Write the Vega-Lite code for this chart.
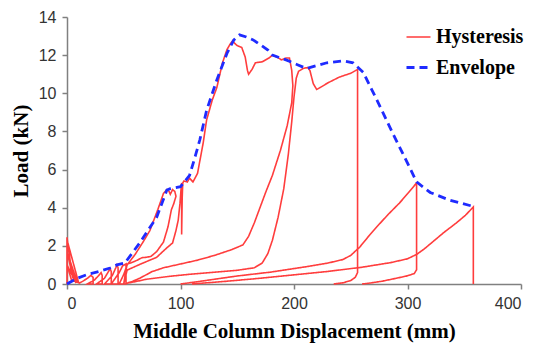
{
  "$schema": "https://vega.github.io/schema/vega-lite/v6.json",
  "width": 454,
  "height": 267,
  "autosize": {"type": "none"},
  "padding": {"left": 67, "top": 17, "right": 16, "bottom": 63},
  "background": "white",
  "config": {
    "view": {"stroke": null},
    "axis": {
      "grid": false,
      "labelFont": "Liberation Sans",
      "labelFontSize": 16,
      "labelColor": "#333333",
      "titleFont": "Liberation Serif",
      "titleFontSize": 21,
      "titleFontWeight": "bold",
      "titleColor": "#000000",
      "domainColor": "#808080",
      "domainWidth": 1.5,
      "tickColor": "#808080",
      "tickWidth": 1.5,
      "tickSize": 5
    }
  },
  "datasets": {
    "rows": [
      {"series":"Hysteresis","c":1,"i":1,"x":0,"y":0},
      {"series":"Hysteresis","c":1,"i":2,"x":0,"y":2.45},
      {"series":"Hysteresis","c":1,"i":3,"x":2,"y":1.5},
      {"series":"Hysteresis","c":1,"i":4,"x":4,"y":0.8},
      {"series":"Hysteresis","c":1,"i":5,"x":7,"y":0.3},
      {"series":"Hysteresis","c":1,"i":6,"x":10,"y":0.12},
      {"series":"Hysteresis","c":1,"i":7,"x":1,"y":2.1},
      {"series":"Hysteresis","c":1,"i":8,"x":3,"y":1.1},
      {"series":"Hysteresis","c":1,"i":9,"x":6,"y":0.45},
      {"series":"Hysteresis","c":1,"i":10,"x":9,"y":0.1},
      {"series":"Hysteresis","c":1,"i":11,"x":0.5,"y":1.6},
      {"series":"Hysteresis","c":1,"i":12,"x":5,"y":0.35},
      {"series":"Hysteresis","c":1,"i":13,"x":8,"y":0.05},
      {"series":"Hysteresis","c":1,"i":14,"x":0,"y":1.0},
      {"series":"Hysteresis","c":1,"i":15,"x":4,"y":0.2},
      {"series":"Hysteresis","c":1,"i":16,"x":11,"y":0.05},
      {"series":"Hysteresis","c":1,"i":17,"x":14,"y":0.15},
      {"series":"Hysteresis","c":1,"i":18,"x":18,"y":0.3},
      {"series":"Hysteresis","c":1,"i":19,"x":21,"y":0.45},
      {"series":"Hysteresis","c":1,"i":20,"x":23,"y":0.35},
      {"series":"Hysteresis","c":1,"i":21,"x":23,"y":0},
      {"series":"Hysteresis","c":1,"i":22,"x":18,"y":0},
      {"series":"Hysteresis","c":1,"i":23,"x":24,"y":0.2},
      {"series":"Hysteresis","c":1,"i":24,"x":28,"y":0.45},
      {"series":"Hysteresis","c":1,"i":25,"x":30,"y":0.6},
      {"series":"Hysteresis","c":1,"i":26,"x":31,"y":0.45},
      {"series":"Hysteresis","c":1,"i":27,"x":31,"y":0},
      {"series":"Hysteresis","c":1,"i":28,"x":26,"y":0},
      {"series":"Hysteresis","c":1,"i":29,"x":33,"y":0.3},
      {"series":"Hysteresis","c":1,"i":30,"x":36,"y":0.6},
      {"series":"Hysteresis","c":1,"i":31,"x":38,"y":0.8},
      {"series":"Hysteresis","c":1,"i":32,"x":39,"y":0.65},
      {"series":"Hysteresis","c":1,"i":33,"x":39,"y":0},
      {"series":"Hysteresis","c":1,"i":34,"x":33,"y":0},
      {"series":"Hysteresis","c":1,"i":35,"x":40,"y":0.45},
      {"series":"Hysteresis","c":1,"i":36,"x":43,"y":0.85},
      {"series":"Hysteresis","c":1,"i":37,"x":44,"y":1.0},
      {"series":"Hysteresis","c":1,"i":38,"x":45,"y":0.85},
      {"series":"Hysteresis","c":1,"i":39,"x":45,"y":0},
      {"series":"Hysteresis","c":1,"i":40,"x":39,"y":0},
      {"series":"Hysteresis","c":1,"i":41,"x":46,"y":0.6},
      {"series":"Hysteresis","c":1,"i":42,"x":49,"y":0.95},
      {"series":"Hysteresis","c":1,"i":43,"x":52,"y":1.05},
      {"series":"Hysteresis","c":1,"i":44,"x":52,"y":0},
      {"series":"Hysteresis","c":1,"i":45,"x":46,"y":0},
      {"series":"Hysteresis","c":1,"i":46,"x":50,"y":0.5},
      {"series":"Hysteresis","c":1,"i":47,"x":53,"y":1.0},
      {"series":"Hysteresis","c":1,"i":48,"x":60,"y":1.55},
      {"series":"Hysteresis","c":1,"i":49,"x":67,"y":2.2},
      {"series":"Hysteresis","c":1,"i":50,"x":73,"y":2.8},
      {"series":"Hysteresis","c":1,"i":51,"x":80,"y":3.9},
      {"series":"Hysteresis","c":1,"i":52,"x":85,"y":4.75},
      {"series":"Hysteresis","c":1,"i":53,"x":88,"y":4.95},
      {"series":"Hysteresis","c":1,"i":54,"x":90,"y":4.85},
      {"series":"Hysteresis","c":1,"i":55,"x":91,"y":4.7},
      {"series":"Hysteresis","c":1,"i":56,"x":93,"y":4.95},
      {"series":"Hysteresis","c":1,"i":57,"x":95,"y":4.85},
      {"series":"Hysteresis","c":1,"i":58,"x":96,"y":4.6},
      {"series":"Hysteresis","c":1,"i":59,"x":94,"y":4.2},
      {"series":"Hysteresis","c":1,"i":60,"x":92,"y":3.9},
      {"series":"Hysteresis","c":1,"i":61,"x":89,"y":3.0},
      {"series":"Hysteresis","c":1,"i":62,"x":85,"y":2.2},
      {"series":"Hysteresis","c":1,"i":63,"x":79,"y":1.7},
      {"series":"Hysteresis","c":1,"i":64,"x":74,"y":1.45},
      {"series":"Hysteresis","c":1,"i":65,"x":70,"y":1.4},
      {"series":"Hysteresis","c":1,"i":66,"x":66,"y":1.38},
      {"series":"Hysteresis","c":1,"i":67,"x":62,"y":1.25},
      {"series":"Hysteresis","c":1,"i":68,"x":56,"y":1.1},
      {"series":"Hysteresis","c":1,"i":69,"x":53,"y":1.05},
      {"series":"Hysteresis","c":1,"i":70,"x":51,"y":0.4},
      {"series":"Hysteresis","c":1,"i":71,"x":50,"y":0},
      {"series":"Hysteresis","c":1,"i":72,"x":53,"y":0.73},
      {"series":"Hysteresis","c":1,"i":73,"x":65,"y":1.05},
      {"series":"Hysteresis","c":1,"i":74,"x":79,"y":1.4},
      {"series":"Hysteresis","c":1,"i":75,"x":88,"y":1.9},
      {"series":"Hysteresis","c":1,"i":76,"x":93,"y":2.15},
      {"series":"Hysteresis","c":1,"i":77,"x":96,"y":2.8},
      {"series":"Hysteresis","c":1,"i":78,"x":98,"y":3.35},
      {"series":"Hysteresis","c":1,"i":79,"x":99.5,"y":4.2},
      {"series":"Hysteresis","c":1,"i":80,"x":100.5,"y":5.0},
      {"series":"Hysteresis","c":1,"i":81,"x":101,"y":5.3},
      {"series":"Hysteresis","c":1,"i":82,"x":101,"y":2.6},
      {"series":"Hysteresis","c":1,"i":83,"x":101.5,"y":4.5},
      {"series":"Hysteresis","c":1,"i":84,"x":102,"y":5.3},
      {"series":"Hysteresis","c":1,"i":85,"x":103,"y":5.4},
      {"series":"Hysteresis","c":1,"i":86,"x":106,"y":5.35},
      {"series":"Hysteresis","c":1,"i":87,"x":108,"y":5.55},
      {"series":"Hysteresis","c":1,"i":88,"x":111,"y":5.35},
      {"series":"Hysteresis","c":1,"i":89,"x":115,"y":5.8},
      {"series":"Hysteresis","c":1,"i":90,"x":120,"y":7.4},
      {"series":"Hysteresis","c":1,"i":91,"x":123,"y":8.6},
      {"series":"Hysteresis","c":1,"i":92,"x":128,"y":9.65},
      {"series":"Hysteresis","c":1,"i":93,"x":132,"y":10.3},
      {"series":"Hysteresis","c":1,"i":94,"x":137,"y":11.6},
      {"series":"Hysteresis","c":1,"i":95,"x":141,"y":12.3},
      {"series":"Hysteresis","c":1,"i":96,"x":144,"y":12.6},
      {"series":"Hysteresis","c":1,"i":97,"x":146,"y":12.75},
      {"series":"Hysteresis","c":1,"i":98,"x":148,"y":12.6},
      {"series":"Hysteresis","c":1,"i":99,"x":150,"y":12.5},
      {"series":"Hysteresis","c":1,"i":100,"x":154,"y":12.4},
      {"series":"Hysteresis","c":1,"i":101,"x":157,"y":11.9},
      {"series":"Hysteresis","c":1,"i":102,"x":159,"y":11.2},
      {"series":"Hysteresis","c":1,"i":103,"x":160,"y":11.0},
      {"series":"Hysteresis","c":1,"i":104,"x":163,"y":11.25},
      {"series":"Hysteresis","c":1,"i":105,"x":166,"y":11.6},
      {"series":"Hysteresis","c":1,"i":106,"x":172,"y":11.65},
      {"series":"Hysteresis","c":1,"i":107,"x":178,"y":11.85},
      {"series":"Hysteresis","c":1,"i":108,"x":181,"y":12.0},
      {"series":"Hysteresis","c":1,"i":109,"x":185,"y":11.9},
      {"series":"Hysteresis","c":1,"i":110,"x":189,"y":11.75},
      {"series":"Hysteresis","c":1,"i":111,"x":193,"y":11.85},
      {"series":"Hysteresis","c":1,"i":112,"x":196,"y":11.85},
      {"series":"Hysteresis","c":1,"i":113,"x":198,"y":11.2},
      {"series":"Hysteresis","c":1,"i":114,"x":199,"y":10.4},
      {"series":"Hysteresis","c":1,"i":115,"x":198,"y":9.5},
      {"series":"Hysteresis","c":1,"i":116,"x":194,"y":8.3},
      {"series":"Hysteresis","c":1,"i":117,"x":188,"y":7.0},
      {"series":"Hysteresis","c":1,"i":118,"x":181,"y":5.7},
      {"series":"Hysteresis","c":1,"i":119,"x":175,"y":4.8},
      {"series":"Hysteresis","c":1,"i":120,"x":170,"y":4.0},
      {"series":"Hysteresis","c":1,"i":121,"x":165,"y":3.2},
      {"series":"Hysteresis","c":1,"i":122,"x":160,"y":2.5},
      {"series":"Hysteresis","c":1,"i":123,"x":155,"y":2.05},
      {"series":"Hysteresis","c":1,"i":124,"x":145,"y":1.8},
      {"series":"Hysteresis","c":1,"i":125,"x":130,"y":1.5},
      {"series":"Hysteresis","c":1,"i":126,"x":115,"y":1.25},
      {"series":"Hysteresis","c":1,"i":127,"x":100,"y":1.05},
      {"series":"Hysteresis","c":1,"i":128,"x":85,"y":0.85},
      {"series":"Hysteresis","c":1,"i":129,"x":75,"y":0.65},
      {"series":"Hysteresis","c":1,"i":130,"x":64,"y":0.3},
      {"series":"Hysteresis","c":1,"i":131,"x":57,"y":0.12},
      {"series":"Hysteresis","c":1,"i":132,"x":52,"y":0.03},
      {"series":"Hysteresis","c":1,"i":133,"x":60,"y":0.12},
      {"series":"Hysteresis","c":1,"i":134,"x":70,"y":0.25},
      {"series":"Hysteresis","c":1,"i":135,"x":90,"y":0.4},
      {"series":"Hysteresis","c":1,"i":136,"x":110,"y":0.52},
      {"series":"Hysteresis","c":1,"i":137,"x":130,"y":0.62},
      {"series":"Hysteresis","c":1,"i":138,"x":150,"y":0.72},
      {"series":"Hysteresis","c":1,"i":139,"x":165,"y":0.85},
      {"series":"Hysteresis","c":1,"i":140,"x":172,"y":1.1},
      {"series":"Hysteresis","c":1,"i":141,"x":177,"y":1.6},
      {"series":"Hysteresis","c":1,"i":142,"x":181,"y":2.3},
      {"series":"Hysteresis","c":1,"i":143,"x":186,"y":3.5},
      {"series":"Hysteresis","c":1,"i":144,"x":191,"y":5.0},
      {"series":"Hysteresis","c":1,"i":145,"x":195,"y":6.8},
      {"series":"Hysteresis","c":1,"i":146,"x":198,"y":8.5},
      {"series":"Hysteresis","c":1,"i":147,"x":200,"y":9.8},
      {"series":"Hysteresis","c":1,"i":148,"x":202,"y":10.8},
      {"series":"Hysteresis","c":1,"i":149,"x":204,"y":11.15},
      {"series":"Hysteresis","c":1,"i":150,"x":208,"y":11.3},
      {"series":"Hysteresis","c":1,"i":151,"x":212,"y":11.35},
      {"series":"Hysteresis","c":1,"i":152,"x":214,"y":11.2},
      {"series":"Hysteresis","c":1,"i":153,"x":217,"y":10.5},
      {"series":"Hysteresis","c":1,"i":154,"x":220,"y":10.2},
      {"series":"Hysteresis","c":1,"i":155,"x":223,"y":10.3},
      {"series":"Hysteresis","c":1,"i":156,"x":230,"y":10.55},
      {"series":"Hysteresis","c":1,"i":157,"x":240,"y":10.85},
      {"series":"Hysteresis","c":1,"i":158,"x":250,"y":11.05},
      {"series":"Hysteresis","c":1,"i":159,"x":256,"y":11.25},
      {"series":"Hysteresis","c":1,"i":160,"x":256,"y":0.6},
      {"series":"Hysteresis","c":1,"i":161,"x":254,"y":0.35},
      {"series":"Hysteresis","c":1,"i":162,"x":250,"y":0.18},
      {"series":"Hysteresis","c":1,"i":163,"x":243,"y":0.06},
      {"series":"Hysteresis","c":1,"i":164,"x":235,"y":0},
      {"series":"Hysteresis","c":2,"i":1,"x":100,"y":0},
      {"series":"Hysteresis","c":2,"i":2,"x":115,"y":0.12},
      {"series":"Hysteresis","c":2,"i":3,"x":130,"y":0.25},
      {"series":"Hysteresis","c":2,"i":4,"x":150,"y":0.42},
      {"series":"Hysteresis","c":2,"i":5,"x":179,"y":0.62},
      {"series":"Hysteresis","c":2,"i":6,"x":210,"y":0.9},
      {"series":"Hysteresis","c":2,"i":7,"x":230,"y":1.1},
      {"series":"Hysteresis","c":2,"i":8,"x":243,"y":1.28},
      {"series":"Hysteresis","c":2,"i":9,"x":250,"y":1.5},
      {"series":"Hysteresis","c":2,"i":10,"x":258,"y":1.94},
      {"series":"Hysteresis","c":2,"i":11,"x":265,"y":2.45},
      {"series":"Hysteresis","c":2,"i":12,"x":273,"y":3.0},
      {"series":"Hysteresis","c":2,"i":13,"x":283,"y":3.65},
      {"series":"Hysteresis","c":2,"i":14,"x":293,"y":4.25},
      {"series":"Hysteresis","c":2,"i":15,"x":301,"y":4.8},
      {"series":"Hysteresis","c":2,"i":16,"x":308,"y":5.3},
      {"series":"Hysteresis","c":2,"i":17,"x":308,"y":0.75},
      {"series":"Hysteresis","c":2,"i":18,"x":306,"y":0.55},
      {"series":"Hysteresis","c":2,"i":19,"x":300,"y":0.43},
      {"series":"Hysteresis","c":2,"i":20,"x":290,"y":0.3},
      {"series":"Hysteresis","c":2,"i":21,"x":278,"y":0.15},
      {"series":"Hysteresis","c":2,"i":22,"x":267,"y":0.05},
      {"series":"Hysteresis","c":2,"i":23,"x":260,"y":0},
      {"series":"Hysteresis","c":3,"i":1,"x":110,"y":0},
      {"series":"Hysteresis","c":3,"i":2,"x":140,"y":0.14},
      {"series":"Hysteresis","c":3,"i":3,"x":170,"y":0.3},
      {"series":"Hysteresis","c":3,"i":4,"x":200,"y":0.48},
      {"series":"Hysteresis","c":3,"i":5,"x":230,"y":0.66},
      {"series":"Hysteresis","c":3,"i":6,"x":260,"y":0.88},
      {"series":"Hysteresis","c":3,"i":7,"x":285,"y":1.12},
      {"series":"Hysteresis","c":3,"i":8,"x":300,"y":1.32},
      {"series":"Hysteresis","c":3,"i":9,"x":308,"y":1.55},
      {"series":"Hysteresis","c":3,"i":10,"x":315,"y":1.85},
      {"series":"Hysteresis","c":3,"i":11,"x":322,"y":2.2},
      {"series":"Hysteresis","c":3,"i":12,"x":332,"y":2.7},
      {"series":"Hysteresis","c":3,"i":13,"x":343,"y":3.2},
      {"series":"Hysteresis","c":3,"i":14,"x":351,"y":3.6},
      {"series":"Hysteresis","c":3,"i":15,"x":358,"y":4.04},
      {"series":"Hysteresis","c":3,"i":16,"x":358,"y":0},
      {"series":"Envelope","c":4,"i":1,"x":0,"y":0},
      {"series":"Envelope","c":4,"i":2,"x":9,"y":0.3},
      {"series":"Envelope","c":4,"i":3,"x":18,"y":0.5},
      {"series":"Envelope","c":4,"i":4,"x":28,"y":0.65},
      {"series":"Envelope","c":4,"i":5,"x":38,"y":0.84},
      {"series":"Envelope","c":4,"i":6,"x":44,"y":1.0},
      {"series":"Envelope","c":4,"i":7,"x":51,"y":1.1},
      {"series":"Envelope","c":4,"i":8,"x":64,"y":2.15},
      {"series":"Envelope","c":4,"i":9,"x":79,"y":3.5},
      {"series":"Envelope","c":4,"i":10,"x":88,"y":4.93},
      {"series":"Envelope","c":4,"i":11,"x":91,"y":5.0},
      {"series":"Envelope","c":4,"i":12,"x":100,"y":5.1},
      {"series":"Envelope","c":4,"i":13,"x":108,"y":5.7},
      {"series":"Envelope","c":4,"i":14,"x":113,"y":6.7},
      {"series":"Envelope","c":4,"i":15,"x":117,"y":7.55},
      {"series":"Envelope","c":4,"i":16,"x":123,"y":9.1},
      {"series":"Envelope","c":4,"i":17,"x":132,"y":10.7},
      {"series":"Envelope","c":4,"i":18,"x":141,"y":12.1},
      {"series":"Envelope","c":4,"i":19,"x":147,"y":12.8},
      {"series":"Envelope","c":4,"i":20,"x":152,"y":13.06},
      {"series":"Envelope","c":4,"i":21,"x":158,"y":12.95},
      {"series":"Envelope","c":4,"i":22,"x":164,"y":12.8},
      {"series":"Envelope","c":4,"i":23,"x":177,"y":12.27},
      {"series":"Envelope","c":4,"i":24,"x":181,"y":12.0},
      {"series":"Envelope","c":4,"i":25,"x":193,"y":11.75},
      {"series":"Envelope","c":4,"i":26,"x":203,"y":11.5},
      {"series":"Envelope","c":4,"i":27,"x":211,"y":11.3},
      {"series":"Envelope","c":4,"i":28,"x":220,"y":11.45},
      {"series":"Envelope","c":4,"i":29,"x":229,"y":11.6},
      {"series":"Envelope","c":4,"i":30,"x":243,"y":11.7},
      {"series":"Envelope","c":4,"i":31,"x":252,"y":11.6},
      {"series":"Envelope","c":4,"i":32,"x":261,"y":11.1},
      {"series":"Envelope","c":4,"i":33,"x":273,"y":9.65},
      {"series":"Envelope","c":4,"i":34,"x":287,"y":7.9},
      {"series":"Envelope","c":4,"i":35,"x":302,"y":6.1},
      {"series":"Envelope","c":4,"i":36,"x":308,"y":5.35},
      {"series":"Envelope","c":4,"i":37,"x":320,"y":4.8},
      {"series":"Envelope","c":4,"i":38,"x":337,"y":4.4},
      {"series":"Envelope","c":4,"i":39,"x":359,"y":4.05}
    ]
  },
  "data": {"name": "rows"},
  "mark": {"type": "line", "interpolate": "linear"},
  "encoding": {
    "x": {
      "field": "x", "type": "quantitative",
      "scale": {"domain": [0, 400], "nice": false},
      "axis": {"values": [0, 100, 200, 300, 400], "title": "Middle Column Displacement (mm)", "labelPadding": 6, "titlePadding": 9}
    },
    "y": {
      "field": "y", "type": "quantitative",
      "scale": {"domain": [0, 14], "nice": false},
      "axis": {"values": [0, 2, 4, 6, 8, 10, 12, 14], "title": "Load (kN)", "labelPadding": 6, "titlePadding": 7}
    },
    "color": {
      "field": "series", "type": "nominal",
      "scale": {"domain": ["Hysteresis", "Envelope"], "range": ["#ff3d3d", "#1f2bff"]},
      "legend": {
        "title": null,
        "orient": "none",
        "legendX": 338,
        "legendY": 7,
        "labelFont": "Liberation Serif",
        "labelFontSize": 20,
        "labelFontWeight": "bold",
        "labelColor": "#000000",
        "symbolSize": 576,
        "rowPadding": 7,
        "labelOffset": 4
      }
    },
    "strokeDash": {
      "field": "series", "type": "nominal",
      "scale": {"domain": ["Hysteresis", "Envelope"], "range": [[1, 0], [8, 5]]}
    },
    "strokeWidth": {
      "field": "series", "type": "nominal",
      "scale": {"domain": ["Hysteresis", "Envelope"], "range": [1.6, 2.8]}
    },
    "detail": {"field": "c", "type": "nominal"},
    "order": {"field": "i", "type": "quantitative"}
  }
}
